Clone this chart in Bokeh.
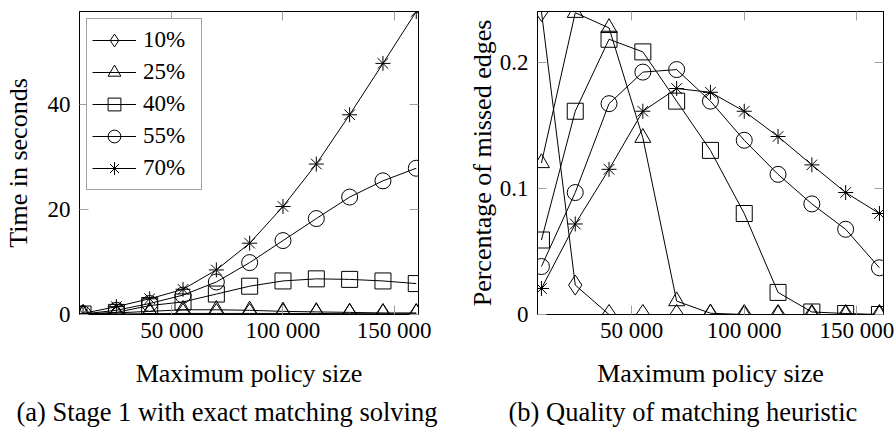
from bokeh.plotting import figure
from bokeh.models import Range1d, FixedTicker, LinearAxis, Legend, LegendItem, Title
from bokeh.layouts import row
from bokeh.embed import file_html
from bokeh.resources import INLINE

# ---------------- data ----------------
policy_sizes = [10000, 25000, 40000, 55000, 70000, 85000, 100000, 115000, 130000, 145000, 160000]
series_labels = ["10%", "25%", "40%", "55%", "70%"]

# (a) Stage 1 with exact matching solving: time in seconds
time_10 = [0.05, 0.1, 0.15, 0.2, 0.2, 0.2, 0.2, 0.2, 0.15, 0.15, 0.15]
time_25 = [0.05, 0.3, 0.6, 0.9, 0.9, 0.8, 0.6, 0.5, 0.4, 0.3, 0.3]
time_40 = [0.1, 0.4, 1.7, 2.4, 3.9, 5.4, 6.4, 6.8, 6.7, 6.4, 5.9]
time_55 = [0.1, 0.8, 2.1, 3.7, 6.2, 9.9, 14.1, 18.3, 22.4, 25.5, 27.9]
time_70 = [0.2, 1.5, 3.0, 4.8, 8.5, 13.6, 20.6, 28.7, 38.1, 47.9, 57.8]

# (b) Quality of matching heuristic: percentage of missed edges
miss_10 = [0.240, 0.0233, 0.0, 0.0, 0.0, 0.0, 0.0, 0.0, 0.0, 0.0, 0.0]
miss_25 = [0.120, 0.239, 0.227, 0.140, 0.0106, 0.001, 0.0, 0.0, 0.0, 0.0, 0.0]
miss_40 = [0.059, 0.161, 0.218, 0.208, 0.169, 0.130, 0.080, 0.0175, 0.002, 0.0008, 0.0]
miss_55 = [0.038, 0.0966, 0.167, 0.192, 0.194, 0.169, 0.138, 0.111, 0.0876, 0.0675, 0.037]
miss_70 = [0.0206, 0.0717, 0.115, 0.161, 0.179, 0.176, 0.161, 0.141, 0.1185, 0.0966, 0.080]

x_ticks = [50000, 100000, 150000]
x_tick_labels = ["50 000", "100 000", "150 000"]
time_ticks = [0, 20, 40]
time_tick_labels = ["0", "20", "40"]
miss_ticks = [0, 0.1, 0.2]
miss_tick_labels = ["0", "0.1", "0.2"]

x_label = "Maximum policy size"
time_label = "Time in seconds"
miss_label = "Percentage of missed edges"
caption_a = "(a) Stage 1 with exact matching solving"
caption_b = "(b) Quality of matching heuristic"

# ---------------- style ----------------
FONT = "Times New Roman"
MARKERS = ["diamond", "triangle", "square", "circle", "asterisk"]
SIZES = [20, 16, 16, 16, 15]
TICK_COLOR = "#a0a0a0"
H = 431


def style_axis(ax, ticks, labels, show_labels=True):
    ax.ticker = FixedTicker(ticks=ticks)
    ax.major_tick_in = 9
    ax.major_tick_out = 0
    ax.minor_tick_in = 0
    ax.minor_tick_out = 0
    ax.major_tick_line_color = TICK_COLOR
    ax.major_tick_line_width = 1
    ax.axis_line_color = "black"
    ax.axis_line_width = 1
    ax.major_label_text_font = FONT
    if show_labels:
        ax.major_label_overrides = dict(zip(ticks, labels))
        ax.major_label_text_color = "black"
        ax.major_label_text_font_size = "23px"
    else:
        ax.major_label_text_color = None
        ax.major_label_text_font_size = "0px"
        ax.major_label_standoff = 0
        ax.axis_label = None


def make_fig(width, bl, br, xr, yr, yticks, ylabels, ylabel, caption, cap_offset, ylab_standoff):
    p = figure(width=width, height=H, x_range=Range1d(*xr), y_range=Range1d(*yr),
               output_backend="svg", toolbar_location=None,
               min_border_left=bl, min_border_right=br, min_border_top=11, min_border_bottom=117)
    p.xgrid.visible = False
    p.ygrid.visible = False
    p.outline_line_color = "black"
    p.outline_line_width = 1
    p.background_fill_color = "white"
    p.border_fill_color = "white"

    xa = p.xaxis[0]
    style_axis(xa, x_ticks, x_tick_labels)
    xa.major_label_standoff = 3
    xa.axis_label = x_label
    xa.axis_label_text_font = FONT
    xa.axis_label_text_font_size = "26px"
    xa.axis_label_text_font_style = "normal"
    xa.axis_label_text_color = "black"
    xa.axis_label_standoff = 13

    ya = p.yaxis[0]
    style_axis(ya, yticks, ylabels)
    ya.major_label_standoff = 9
    ya.axis_label = ylabel
    ya.axis_label_text_font = FONT
    ya.axis_label_text_font_size = "26px"
    ya.axis_label_text_font_style = "normal"
    ya.axis_label_text_color = "black"
    ya.axis_label_standoff = ylab_standoff

    top = LinearAxis()
    style_axis(top, x_ticks, x_tick_labels, show_labels=False)
    p.add_layout(top, "above")
    right = LinearAxis()
    style_axis(right, yticks, ylabels, show_labels=False)
    p.add_layout(right, "right")

    t = Title(text=caption, align="left", offset=cap_offset, text_font=FONT,
              text_font_size="26.5px", text_font_style="normal", text_color="black", standoff=8)
    p.add_layout(t, "below")
    return p


def draw_series(p, ys_list):
    items = []
    for lab, ys, mk, sz in zip(series_labels, ys_list, MARKERS, SIZES):
        lr = p.line(policy_sizes, ys, line_color="black", line_width=1)
        sr = p.scatter(policy_sizes, ys, marker=mk, size=sz, line_color="black",
                       line_width=1, fill_color=None)
        items.append(LegendItem(label=lab, renderers=[lr, sr]))
    return items


p1 = make_fig(446, 73, 28, (8400, 161000), (0, 57.8), time_ticks, time_tick_labels,
              time_label, caption_a, -63, 12)
items = draw_series(p1, [time_10, time_25, time_40, time_55, time_70])
legend = Legend(items=items, location=(7, 124))
legend.border_line_color = "#444444"
legend.border_line_width = 1
legend.background_fill_color = "white"
legend.background_fill_alpha = 1
legend.padding = 5
legend.spacing = 0
legend.margin = 0
legend.glyph_width = 44
legend.glyph_height = 32
legend.label_height = 32
legend.label_width = 53
legend.label_standoff = 7
legend.label_text_font = FONT
legend.label_text_font_size = "23px"
legend.label_text_color = "black"
p1.add_layout(legend)

p2 = make_fig(450, 91, 13, (8250, 161800), (0, 0.24), miss_ticks, miss_tick_labels,
              miss_label, caption_b, -29, 0)
draw_series(p2, [miss_10, miss_25, miss_40, miss_55, miss_70])

layout = row(p1, p2, spacing=0)
open("out.html", "w").write(file_html(layout, INLINE))
